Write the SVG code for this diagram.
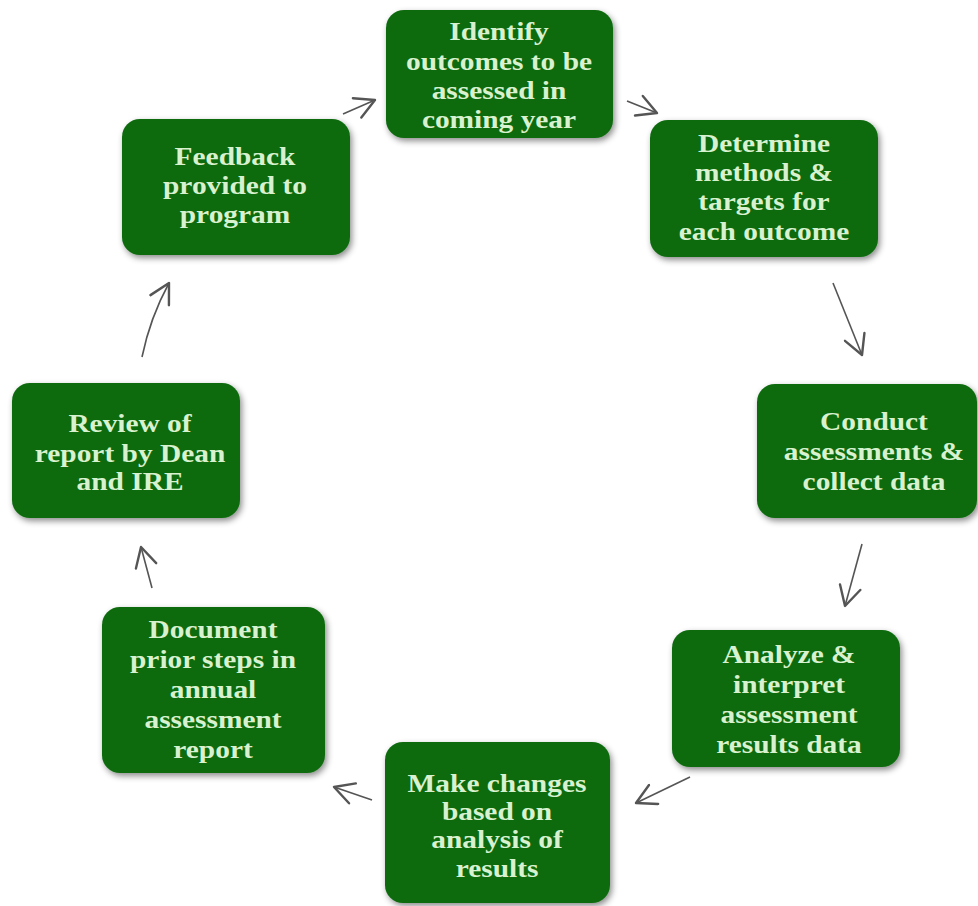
<svg xmlns="http://www.w3.org/2000/svg" width="978" height="906" viewBox="0 0 978 906">
<defs>
<filter id="sh" x="-10%" y="-10%" width="125%" height="130%">
<feDropShadow dx="2" dy="3" stdDeviation="3" flood-color="#000" flood-opacity="0.45"/>
</filter>
<marker id="ah" markerUnits="userSpaceOnUse" markerWidth="24" markerHeight="24" refX="14" refY="8" orient="auto" viewBox="0 0 16 16">
<path d="M1,1 L14,8 L1,15" fill="none" stroke="#555" stroke-width="1.6" stroke-linecap="round" stroke-linejoin="round"/>
</marker>
<style>
.box{fill:#0a6a0f;filter:url(#sh);}
.t{font-family:"Liberation Serif","Times New Roman",serif;font-weight:bold;font-size:24.5px;fill:#d8f1cf;text-anchor:middle;}
.c{fill:none;stroke:#555;stroke-width:1.6;marker-end:url(#ah);}
</style>
</defs>
<rect width="978" height="906" fill="#ffffff"/>
<g id="connectors">
<path class="c" d="M343,114 L375,100"/>
<path class="c" d="M627,101 L657,113"/>
<path class="c" d="M833,283 L862,355"/>
<path class="c" d="M862,544 L845,606"/>
<path class="c" d="M690,777 L636,803"/>
<path class="c" d="M372,800 L334,787"/>
<path class="c" d="M152,588 L141,547"/>
<path class="c" d="M142,357 Q150,318 169,283"/>
</g>
<g id="n1">
<rect class="box" x="386" y="10" width="227" height="128" rx="18"/>
<g transform="translate(499 0) scale(1.2 1)" class="t">
<text class="t" x="0" y="40">Identify</text>
<text class="t" x="0" y="70">outcomes to be</text>
<text class="t" x="0" y="99">assessed in</text>
<text class="t" x="0" y="128">coming  year</text>
</g>
</g>
<g id="n2">
<rect class="box" x="650" y="120" width="228" height="137" rx="18"/>
<g transform="translate(764 0) scale(1.2 1)">
<text class="t" x="0" y="152">Determine</text>
<text class="t" x="0" y="181">methods &amp;</text>
<text class="t" x="0" y="210">targets for</text>
<text class="t" x="0" y="240">each outcome</text>
</g>
</g>
<g id="n3">
<rect class="box" x="757" y="384" width="220" height="134" rx="18"/>
<g transform="translate(874 0) scale(1.2 1)">
<text class="t" x="0" y="430">Conduct</text>
<text class="t" x="0" y="460">assessments &amp;</text>
<text class="t" x="0" y="490">collect data</text>
</g>
</g>
<g id="n4">
<rect class="box" x="672" y="630" width="228" height="137" rx="18"/>
<g transform="translate(789 0) scale(1.2 1)">
<text class="t" x="0" y="663">Analyze  &amp;</text>
<text class="t" x="0" y="693">interpret</text>
<text class="t" x="0" y="723">assessment</text>
<text class="t" x="0" y="753">results data</text>
</g>
</g>
<g id="n5">
<rect class="box" x="385" y="742" width="225" height="161" rx="18"/>
<g transform="translate(497 0) scale(1.2 1)">
<text class="t" x="0" y="792">Make changes</text>
<text class="t" x="0" y="820">based on</text>
<text class="t" x="0" y="848">analysis of</text>
<text class="t" x="0" y="877">results</text>
</g>
</g>
<g id="n6">
<rect class="box" x="102" y="607" width="223" height="166" rx="18"/>
<g transform="translate(213 0) scale(1.2 1)">
<text class="t" x="0" y="638">Document</text>
<text class="t" x="0" y="668">prior steps in</text>
<text class="t" x="0" y="698">annual</text>
<text class="t" x="0" y="728">assessment</text>
<text class="t" x="0" y="758">report</text>
</g>
</g>
<g id="n7">
<rect class="box" x="12" y="383" width="228" height="135" rx="18"/>
<g transform="translate(130 0) scale(1.2 1)">
<text class="t" x="0" y="432">Review of</text>
<text class="t" x="0" y="462">report by Dean</text>
<text class="t" x="0" y="490">and IRE</text>
</g>
</g>
<g id="n8">
<rect class="box" x="122" y="119" width="228" height="136" rx="18"/>
<g transform="translate(235 0) scale(1.2 1)">
<text class="t" x="0" y="165">Feedback</text>
<text class="t" x="0" y="194">provided to</text>
<text class="t" x="0" y="223">program</text>
</g>
</g>
</svg>
